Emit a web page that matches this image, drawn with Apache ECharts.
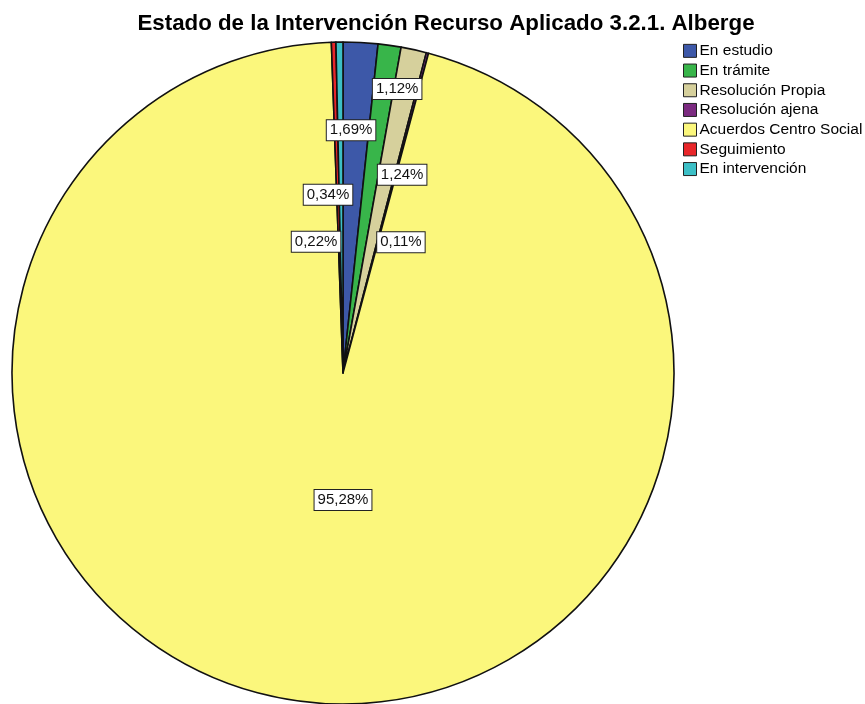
<!DOCTYPE html>
<html>
<head>
<meta charset="utf-8">
<script src="https://cdn.jsdelivr.net/npm/echarts@6/dist/echarts.min.js"></script>
<style>
  html, body { margin: 0; padding: 0; background: #ffffff; }
  #chart { width: 865px; height: 704px; }
</style>
</head>
<body>
<div id="chart"></div>
<script>
// Categories and their shares (%)
const categories = [
  'En estudio',
  'En trámite',
  'Resolución Propia',
  'Resolución ajena',
  'Acuerdos Centro Social',
  'Seguimiento',
  'En intervención'
];
const percentages = [1.69, 1.12, 1.24, 0.11, 95.28, 0.22, 0.34];
const sliceColors = ['#3D58A8', '#38B54A', '#D6D09C', '#7B2A80', '#FBF77C', '#E8262A', '#3CBFC6'];

// Label placement around the centre: [angle from 12 o'clock (deg), distance (px)]
const labelPlacement = [
  [1.9, 243],
  [10.8, 289],
  [16.6, 207],
  [23.9, 143],
  [180, 127],
  [-11.6, 134],
  [-4.8, 179]
];
// Items whose label is tied to its slice by a short leader line
const withLeader = [false, false, false, true, false, true, false];

const CENTER = [343, 373];
const RADIUS = 331;
const FONT = 'Liberation Sans, Arial, sans-serif';

const fmt = v => v.toFixed(2).replace('.', ',') + '%';

const chart = echarts.init(document.getElementById('chart'), null, { renderer: 'canvas' });

function polar(angleDeg, r) {
  const a = angleDeg * Math.PI / 180;
  return [CENTER[0] + r * Math.sin(a), CENTER[1] - r * Math.cos(a)];
}

// Mid-angle of each slice, clockwise from 12 o'clock
const total = percentages.reduce((s, v) => s + v, 0);
const midAngles = [];
{
  let acc = 0;
  percentages.forEach(v => {
    midAngles.push((acc + v / 2) / total * 360);
    acc += v;
  });
}

const option = {
  backgroundColor: '#ffffff',
  animation: false,
  title: {
    text: 'Estado de la Intervención Recurso Aplicado 3.2.1. Alberge',
    left: 441,
    top: 8,
    textAlign: 'center',
    textStyle: {
      fontFamily: FONT,
      fontWeight: 'bold',
      fontSize: 22.3,
      color: '#000'
    }
  },
  legend: {
    orient: 'vertical',
    left: 678,
    top: 37,
    itemWidth: 13,
    itemHeight: 13,
    itemGap: 2,
    icon: 'rect',
    itemStyle: { borderColor: '#222', borderWidth: 1 },
    textStyle: {
      fontFamily: FONT,
      fontSize: 15.5,
      lineHeight: 17.7,
      color: '#000',
      padding: [0, 0, 0, -2]
    },
    data: categories
  },
  series: [{
    type: 'pie',
    center: CENTER,
    radius: RADIUS,
    startAngle: 90,
    clockwise: true,
    avoidLabelOverlap: false,
    itemStyle: { borderColor: '#111', borderWidth: 1.6 },
    label: {
      show: true,
      position: 'outside',
      formatter: p => fmt(p.value),
      fontFamily: FONT,
      fontSize: 15,
      color: '#111',
      backgroundColor: '#ffffff',
      borderColor: '#222',
      borderWidth: 1,
      padding: [3, 3, 2, 3],
      align: 'center',
      verticalAlign: 'middle'
    },
    labelLine: { show: false, lineStyle: { color: '#333', width: 1 } },
    labelLayout: function (params) {
      const i = params.dataIndex;
      const pl = labelPlacement[i];
      const pos = polar(pl[0], pl[1]);
      const res = { x: pos[0], y: pos[1], align: 'center', verticalAlign: 'middle' };
      if (withLeader[i]) {
        const h = params.labelRect.height;
        const top = [pos[0] + (pl[0] < 0 ? 14 : -14), pos[1] - h / 2];
        const onSlice = polar(midAngles[i], pl[1] + 22);
        res.labelLinePoints = [onSlice, top, top];
      }
      return res;
    },
    data: categories.map((name, i) => ({
      name: name,
      value: percentages[i],
      itemStyle: { color: sliceColors[i] },
      labelLine: { show: withLeader[i] }
    }))
  }]
};

chart.setOption(option);
</script>
</body>
</html>
